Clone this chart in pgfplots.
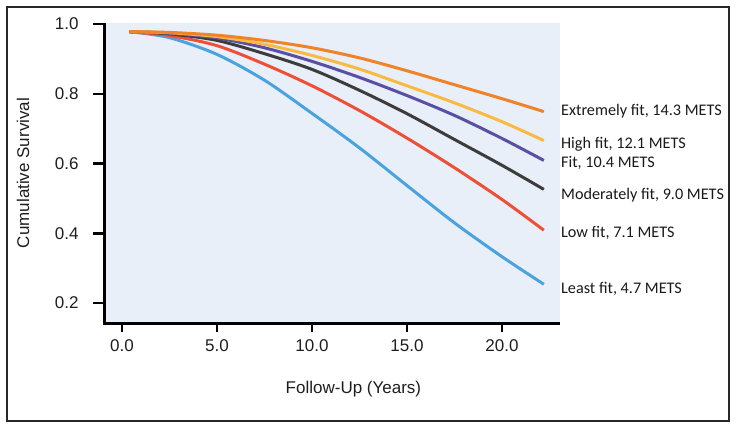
\documentclass[border=0pt]{standalone}
\usepackage{fontspec}
\setmainfont{Liberation Sans}
\newfontfamily\calib{Carlito}
\usepackage{pgfplots}
\pgfplotsset{compat=1.18}
\definecolor{cOr}{RGB}{240,130,40}
\definecolor{cYe}{RGB}{250,185,65}
\definecolor{cPu}{RGB}{90,78,165}
\definecolor{cBk}{RGB}{60,60,60}
\definecolor{cRe}{RGB}{238,80,55}
\definecolor{cBl}{RGB}{75,163,222}
\definecolor{cBg}{RGB}{232,239,248}
\definecolor{cTx}{RGB}{30,30,30}
\begin{document}
\begin{tikzpicture}
\useasboundingbox (-105bp,-106bp) rectangle (632bp,323bp);
\draw[line width=2bp, color={rgb,255:red,40;green,40;blue,40}] (-98bp,-98bp) rectangle (624bp,316bp);
\begin{axis}[
  at={(0,0)}, anchor=south west,
  scale only axis, width=455bp, height=300bp,
  xmin=-0.89, xmax=23.05, ymin=0.143, ymax=1.003,
  axis background/.style={fill=cBg},
  xtick={0,5,10,15,20}, ytick={0.2,0.4,0.6,0.8,1.0},
  /pgf/number format/assume math mode=true,
  xticklabel style={/pgf/number format/fixed, /pgf/number format/fixed zerofill, /pgf/number format/precision=1, yshift=-4bp},
  yticklabel style={/pgf/number format/fixed, /pgf/number format/fixed zerofill, /pgf/number format/precision=1, xshift=-14bp},
  tick label style={font=\fontsize{17bp}{20bp}\selectfont, color=cTx},
  label style={font=\fontsize{17bp}{20bp}\selectfont, color=cTx},
  xlabel={Follow-Up (Years)},
  ylabel={Cumulative Survival},
  xlabel style={at={(axis description cs:0.546,-0.22)}, anchor=center},
  ylabel style={at={(axis description cs:-0.18,0.5)}, anchor=center},
  clip=false,
  axis x line*=bottom, axis y line*=left,
  axis line style={line width=2.5bp, black},
  tick style={line width=2.5bp, black},
  tick align=outside, major tick length=9bp,
]
\pgfplotsset{every axis plot/.append style={line width=3bp, smooth, no marks}}
\addplot[cBl] coordinates {(0.4,0.978)(2.5,0.961)(5,0.913)(7.5,0.839)(10,0.744)(12.5,0.645)(15,0.537)(17.5,0.430)(20,0.333)(22.2,0.254)};
\addplot[cRe] coordinates {(0.4,0.978)(2.5,0.967)(5,0.938)(7.5,0.885)(10,0.823)(12.5,0.752)(15,0.673)(17.5,0.588)(20,0.497)(22.2,0.409)};
\addplot[cBk] coordinates {(0.4,0.978)(2.5,0.972)(5,0.953)(7.5,0.915)(10,0.870)(12.5,0.810)(15,0.743)(17.5,0.669)(20,0.595)(22.2,0.526)};
\addplot[cPu] coordinates {(0.4,0.978)(2.5,0.974)(5,0.960)(7.5,0.932)(10,0.893)(12.5,0.847)(15,0.795)(17.5,0.738)(20,0.672)(22.2,0.609)};
\addplot[cYe] coordinates {(0.4,0.978)(2.5,0.975)(5,0.964)(7.5,0.942)(10,0.910)(12.5,0.871)(15,0.823)(17.5,0.774)(20,0.720)(22.2,0.666)};
\addplot[cOr] coordinates {(0.4,0.978)(2.5,0.976)(5,0.968)(7.5,0.953)(10,0.932)(12.5,0.903)(15,0.866)(17.5,0.826)(20,0.786)(22.2,0.749)};
\draw[line width=3bp, black] (rel axis cs:0,0.9965) -- (rel axis cs:0,0) -- (rel axis cs:1,0);
\pgfplotsinvokeforeach{0.2,0.4,0.6,0.8,1.0}{\draw[line width=2.5bp, black] (axis cs:-0.89,#1) -- ++(-12bp,0pt);}
\pgfplotsinvokeforeach{0,5,10,15,20}{\draw[line width=2.5bp, black] (axis cs:#1,0.143) -- ++(0pt,-7bp);}
\begin{scope}[every node/.style={anchor=west, inner sep=0pt, font=\calib\fontsize{16.2bp}{18bp}\selectfont, color={rgb,255:red,25;green,25;blue,25}}]
\node at (axis cs:23.1,0.749) {Extremely fit, 14.3 METS};
\node at (axis cs:23.1,0.654) {High fit, 12.1 METS};
\node at (axis cs:23.1,0.603) {Fit, 10.4 METS};
\node at (axis cs:23.1,0.509) {Moderately fit, 9.0 METS};
\node at (axis cs:23.1,0.400) {Low fit, 7.1 METS};
\node at (axis cs:23.1,0.240) {Least fit, 4.7 METS};
\end{scope}
\end{axis}
\end{tikzpicture}
\end{document}
